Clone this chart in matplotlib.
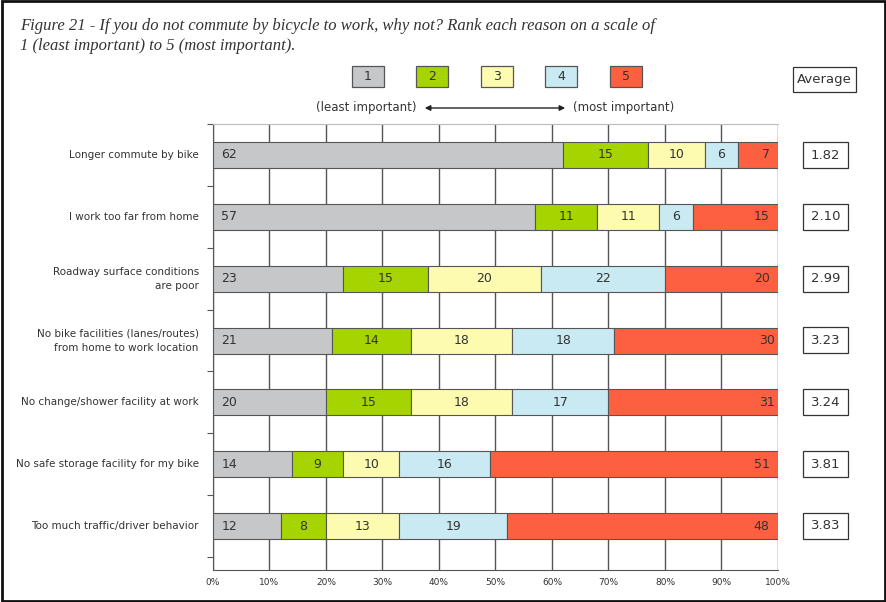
import matplotlib.pyplot as plt
from matplotlib.patches import Rectangle, FancyArrowPatch

reasons = [
    "Longer commute by bike",
    "I work too far from home",
    "Roadway surface conditions\nare poor",
    "No bike facilities (lanes/routes)\nfrom home to work location",
    "No change/shower facility at work",
    "No safe storage facility for my bike",
    "Too much traffic/driver behavior",
]
r1 = [62, 57, 23, 21, 20, 14, 12]
r2 = [15, 11, 15, 14, 15, 9, 8]
r3 = [10, 11, 20, 18, 18, 10, 13]
r4 = [6, 6, 22, 18, 17, 16, 19]
r5 = [7, 15, 20, 30, 31, 51, 48]
averages = ["1.82", "2.10", "2.99", "3.23", "3.24", "3.81", "3.83"]
rank_labels = ["1", "2", "3", "4", "5"]
colors = ["#c6c7c9", "#a6d400", "#fdfbb0", "#c9eaf2", "#fd6040"]

W, H = 887, 602
fig = plt.figure(figsize=(W / 100, H / 100), dpi=100)
ax = fig.add_axes([213 / W, 1 - 570 / H, 565 / W, 446 / H])

series = [r1, r2, r3, r4, r5]
n = len(reasons)
ys = list(range(n))
left = [0] * n
for k, vals in enumerate(series):
    ax.barh(ys, vals, left=left, height=0.42, color=colors[k],
            edgecolor="#555555", linewidth=0.8, zorder=3)
    for i, v in enumerate(vals):
        if k == 0:
            ax.text(left[i] + 1.5, i, str(v), ha="left", va="center", fontsize=9, color="#333333", zorder=4)
        elif k == 4:
            ax.text(left[i] + v - 1.5, i, str(v), ha="right", va="center", fontsize=9, color="#333333", zorder=4)
        else:
            ax.text(left[i] + v / 2, i, str(v), ha="center", va="center", fontsize=9, color="#333333", zorder=4)
    left = [a + b for a, b in zip(left, vals)]

ax.set_xlim(0, 100)
ax.set_ylim(n - 1 + 44 / 62, -0.5)
ax.set_xticks(range(0, 101, 10))
ax.set_xticklabels([f"{x}%" for x in range(0, 101, 10)], fontsize=6.5, color="#333333")
ax.xaxis.grid(True, color="#555555", linewidth=1.0, zorder=0)
ax.tick_params(axis="x", length=0, pad=6)
ax.set_yticks([i + 0.5 for i in range(-1, n)])
ax.set_yticklabels([])
ax.tick_params(axis="y", length=4, direction="out", color="#555555")
for i, r in enumerate(reasons):
    ax.text(-2.5, i, r, ha="right", va="center", fontsize=7.5, color="#333333", linespacing=1.5)
for s in ax.spines.values():
    s.set_color("#555555")
ax.spines["top"].set_color("#bbbbbb")
ax.spines["right"].set_visible(False)

# average boxes
for i, a in enumerate(averages):
    yc = 1 - (155 + i * 61.8) / H
    fig.patches.append(Rectangle((803 / W, yc - 13 / H), 45 / W, 26 / H, transform=fig.transFigure,
                                 facecolor="white", edgecolor="#333333", linewidth=0.9))
    fig.text(825.5 / W, yc, a, ha="center", va="center", fontsize=9.5, color="#333333")
fig.patches.append(Rectangle((793 / W, 1 - 92 / H), 63 / W, 25 / H, transform=fig.transFigure,
                             facecolor="white", edgecolor="#333333", linewidth=0.9))
fig.text(824.5 / W, 1 - 79.5 / H, "Average", ha="center", va="center", fontsize=9.5, color="#333333")

# legend swatches
for k, lab in enumerate(rank_labels):
    xc = 368 + k * 64.5
    fig.patches.append(Rectangle(((xc - 16) / W, 1 - 87 / H), 32 / W, 21 / H, transform=fig.transFigure,
                                 facecolor=colors[k], edgecolor="#555555", linewidth=0.9))
    fig.text(xc / W, 1 - 76.5 / H, lab, ha="center", va="center", fontsize=9, color="#333333")

fig.text(417 / W, 1 - 107 / H, "(least important)", ha="right", va="center", fontsize=8.5, color="#333333")
fig.text(573 / W, 1 - 107 / H, "(most important)", ha="left", va="center", fontsize=8.5, color="#333333")
fig.patches.append(FancyArrowPatch((422 / W, 1 - 108 / H), (568 / W, 1 - 108 / H), transform=fig.transFigure,
                                   arrowstyle="<|-|>", mutation_scale=8, color="#222222", linewidth=1))

fig.text(20 / W, 1 - 36 / H,
         "Figure 21 - If you do not commute by bicycle to work, why not? Rank each reason on a scale of\n"
         "1 (least important) to 5 (most important).",
         ha="left", va="center", fontsize=12, style="italic", family="Liberation Serif",
         color="#333333", linespacing=1.3)

fig.patches.append(Rectangle((0.002, 0.002), 0.996, 0.996, transform=fig.transFigure,
                             facecolor="none", edgecolor="#111111", linewidth=2))
fig.savefig("out.png", dpi=100)
